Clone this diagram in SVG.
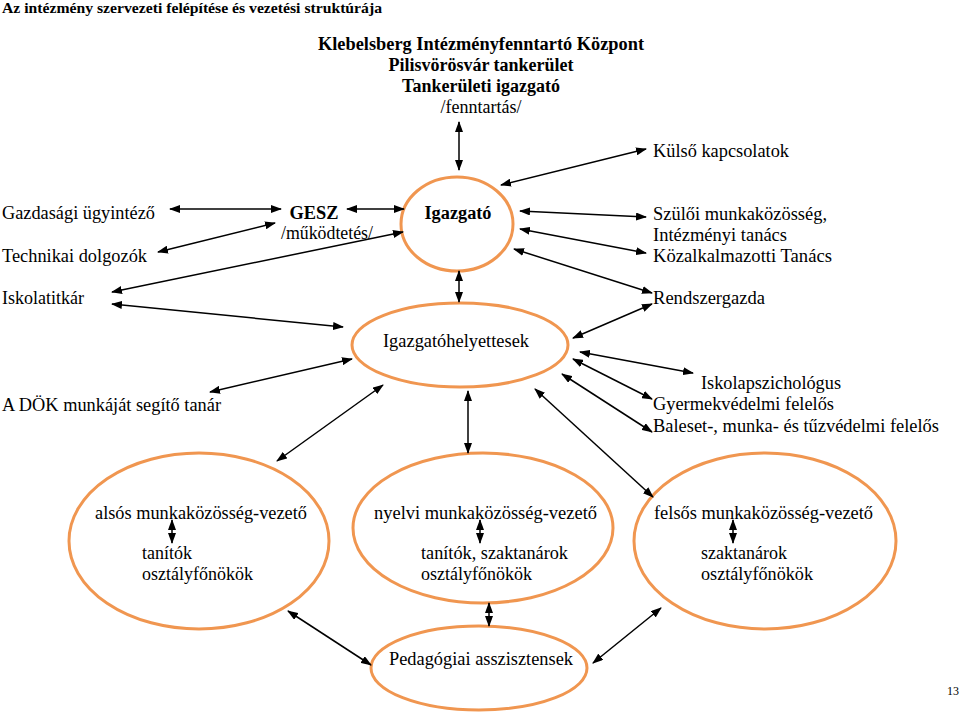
<svg xmlns="http://www.w3.org/2000/svg" width="960" height="713" viewBox="0 0 960 713" font-family="'Liberation Serif', 'DejaVu Serif', serif">
<style>
text{font-family:'Liberation Serif','DejaVu Serif',serif;font-size:18px;fill:#000}
.b{font-weight:bold}
.c{text-anchor:middle}
.ell{fill:none;stroke:#F09650;stroke-width:3}
.con line{stroke:#000;stroke-width:1.5;marker-start:url(#ah);marker-end:url(#ah)}
</style>
<defs>
<marker id="ah" markerUnits="userSpaceOnUse" markerWidth="11" markerHeight="8" refX="10" refY="4" orient="auto-start-reverse" viewBox="0 0 11 8">
<path d="M0,0 L11,4 L0,8 z" fill="#000"/>
</marker>
</defs>
<rect width="960" height="713" fill="#fff"/>
<text x="2" y="13" class="b" style="font-size:15.5px" textLength="380" lengthAdjust="spacingAndGlyphs">Az intézmény szervezeti felépítése és vezetési struktúrája</text>

<g id="kik">
<text x="481" y="50" class="b c" textLength="326" lengthAdjust="spacingAndGlyphs">Klebelsberg Intézményfenntartó Központ</text>
<text x="481" y="71" class="b c">Pilisvörösvár tankerület</text>
<text x="481" y="92" class="b c">Tankerületi igazgató</text>
<text x="481" y="113" class="c">/fenntartás/</text>
</g>
<g id="igazgato">
<ellipse class="ell" cx="457" cy="224" rx="56" ry="47"/>
<text x="458" y="219" class="b c" textLength="67" lengthAdjust="spacingAndGlyphs">Igazgató</text>
</g>
<g id="gesz">
<text x="314" y="219" class="b c" textLength="49" lengthAdjust="spacingAndGlyphs">GESZ</text>
<text x="327" y="239" class="c" textLength="92" lengthAdjust="spacingAndGlyphs">/működtetés/</text>
</g>
<g id="gazdasagi"><text x="2" y="219" textLength="153" lengthAdjust="spacingAndGlyphs">Gazdasági ügyintéző</text></g>
<g id="technikai"><text x="2" y="262" textLength="145" lengthAdjust="spacingAndGlyphs">Technikai dolgozók</text></g>
<g id="iskolatitkar"><text x="2" y="304" textLength="82" lengthAdjust="spacingAndGlyphs">Iskolatitkár</text></g>
<g id="kulso"><text x="653" y="157" textLength="136" lengthAdjust="spacingAndGlyphs">Külső kapcsolatok</text></g>
<g id="szuloi">
<text x="653" y="220" textLength="174" lengthAdjust="spacingAndGlyphs">Szülői munkaközösség,</text>
<text x="653" y="241" textLength="134" lengthAdjust="spacingAndGlyphs">Intézményi tanács</text>
<text x="653" y="262" textLength="179" lengthAdjust="spacingAndGlyphs">Közalkalmazotti Tanács</text>
</g>
<g id="rendszergazda"><text x="653" y="304" textLength="112" lengthAdjust="spacingAndGlyphs">Rendszergazda</text></g>
<g id="helyettesek">
<ellipse class="ell" cx="460" cy="345" rx="108" ry="42"/>
<text x="456" y="347" class="c" textLength="146" lengthAdjust="spacingAndGlyphs">Igazgatóhelyettesek</text>
</g>
<g id="dok"><text x="2" y="411" textLength="219" lengthAdjust="spacingAndGlyphs">A DÖK munkáját segítő tanár</text></g>
<g id="pszich"><text x="701" y="389" textLength="140" lengthAdjust="spacingAndGlyphs">Iskolapszichológus</text></g>
<g id="gyermek"><text x="653" y="410" textLength="181" lengthAdjust="spacingAndGlyphs">Gyermekvédelmi felelős</text></g>
<g id="baleset"><text x="653" y="432" textLength="286" lengthAdjust="spacingAndGlyphs">Baleset-, munka- és tűzvédelmi felelős</text></g>
<g id="also">
<ellipse class="ell" cx="199" cy="541" rx="130" ry="88"/>
<text x="95" y="519" textLength="212" lengthAdjust="spacingAndGlyphs">alsós munkaközösség-vezető</text>
<text x="142" y="559" textLength="50" lengthAdjust="spacingAndGlyphs">tanítók</text>
<text x="142" y="580" textLength="111" lengthAdjust="spacingAndGlyphs">osztályfőnökök</text>
</g>
<g id="nyelvi">
<ellipse class="ell" cx="483" cy="528" rx="130" ry="75"/>
<text x="374" y="519" textLength="223" lengthAdjust="spacingAndGlyphs">nyelvi munkaközösség-vezető</text>
<text x="421" y="559" textLength="147" lengthAdjust="spacingAndGlyphs">tanítók, szaktanárok</text>
<text x="421" y="580" textLength="111" lengthAdjust="spacingAndGlyphs">osztályfőnökök</text>
</g>
<g id="felso">
<ellipse class="ell" cx="765" cy="541" rx="131" ry="88"/>
<text x="654" y="519" textLength="219" lengthAdjust="spacingAndGlyphs">felsős munkaközösség-vezető</text>
<text x="701" y="559" textLength="86" lengthAdjust="spacingAndGlyphs">szaktanárok</text>
<text x="701" y="580" textLength="112" lengthAdjust="spacingAndGlyphs">osztályfőnökök</text>
</g>
<g id="pedasszisztens">
<ellipse class="ell" cx="479" cy="668" rx="108" ry="42"/>
<text x="389" y="665" textLength="184" lengthAdjust="spacingAndGlyphs">Pedagógiai asszisztensek</text>
</g>
<text x="947" y="695" style="font-size:12px">13</text>

<g class="con" id="connectors">
<line x1="459" y1="122" x2="459" y2="170"/>
<line x1="170" y1="209" x2="281" y2="209"/>
<line x1="347" y1="209" x2="404" y2="209"/>
<line x1="158" y1="252" x2="275" y2="223"/>
<line x1="112" y1="292" x2="403" y2="232"/>
<line x1="112" y1="304" x2="343" y2="327"/>
<line x1="501" y1="185" x2="646" y2="149"/>
<line x1="520" y1="211" x2="646" y2="217"/>
<line x1="520" y1="229" x2="646" y2="253"/>
<line x1="514" y1="249" x2="652" y2="293"/>
<line x1="573" y1="338" x2="652" y2="304"/>
<line x1="459" y1="271" x2="459" y2="302"/>
<line x1="210" y1="392" x2="352" y2="359"/>
<line x1="383" y1="385" x2="277" y2="461"/>
<line x1="468" y1="391" x2="468" y2="453"/>
<line x1="580" y1="352" x2="693" y2="373"/>
<line x1="573" y1="359" x2="652" y2="399"/>
<line x1="562" y1="374" x2="652" y2="432"/>
<line x1="535" y1="389" x2="653" y2="497"/>
<line x1="288" y1="611" x2="371" y2="665"/>
<line x1="489" y1="603" x2="489" y2="626"/>
<line x1="593" y1="663" x2="661" y2="608"/>
<line x1="172" y1="520" x2="172" y2="543"/>
<line x1="480" y1="520" x2="480" y2="543"/>
<line x1="733" y1="520" x2="733" y2="543"/>
</g>
</svg>
